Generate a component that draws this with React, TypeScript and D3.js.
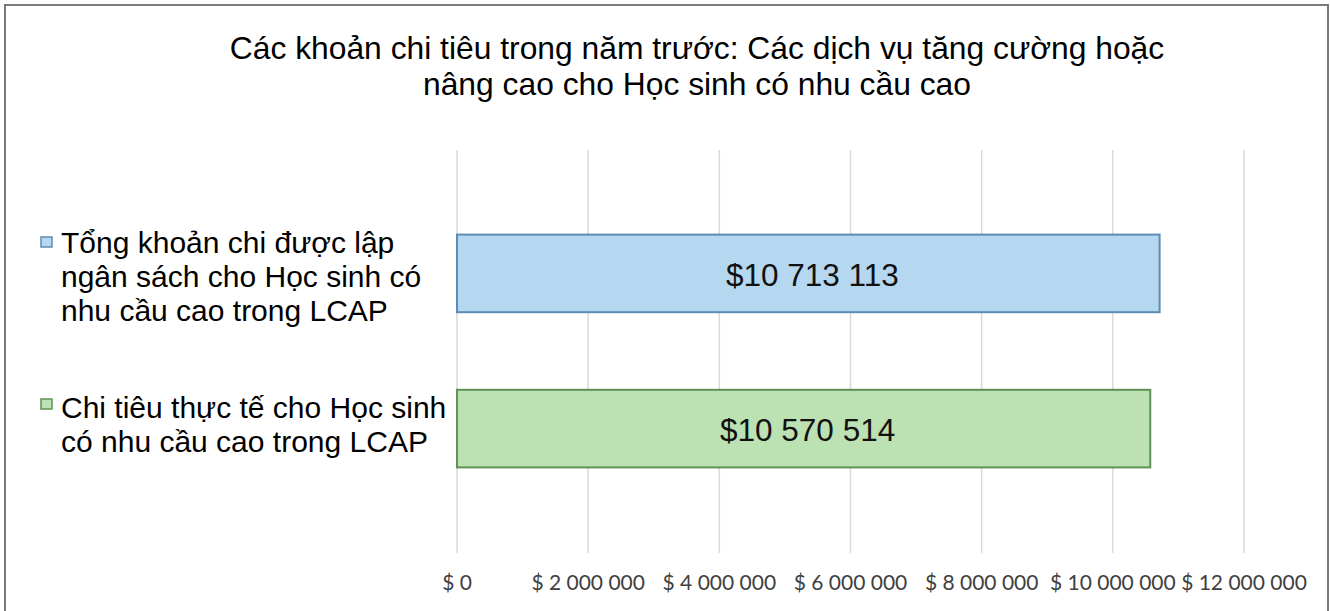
import React from "react";
import * as d3 from "d3";

const categories = [
  "Tổng khoản chi được lập ngân sách cho Học sinh có nhu cầu cao trong LCAP",
  "Chi tiêu thực tế cho Học sinh có nhu cầu cao trong LCAP",
];
const values = [10713113, 10570514];
const legendLines = [
  ["Tổng khoản chi được lập", "ngân sách cho Học sinh có", "nhu cầu cao trong LCAP"],
  ["Chi tiêu thực tế cho Học sinh", "có nhu cầu cao trong LCAP"],
];
const valueLabels = ["$10 713 113", "$10 570 514"];
const tickValues = [0, 2000000, 4000000, 6000000, 8000000, 10000000, 12000000];
const tickLabels = ["$ 0", "$ 2 000 000", "$ 4 000 000", "$ 6 000 000", "$ 8 000 000", "$ 10 000 000", "$ 12 000 000"];
const titleLines = [
  "Các khoản chi tiêu trong năm trước: Các dịch vụ tăng cường hoặc",
  "nâng cao cho Học sinh có nhu cầu cao",
];
const fills = ["#B5D7EF", "#BCE1B2"];
const strokes = ["#5D8DB5", "#5F9255"];

export default function App() {
  const W = 1330;
  const H = 611;
  const x = d3.scaleLinear().domain([0, 12000000]).range([457, 1244]);
  const y = d3.scaleBand<string>().domain(categories).range([157, 545]).paddingInner(0.5).paddingOuter(0.5);
  const gridTop = 150;
  const gridBottom = 553;
  const font = "'Liberation Sans', Arial, sans-serif";
  const legendY = [[253, 287, 321], [418, 452]];
  const markerY = [242, 404];

  return (
    <svg width={W} height={H} style={{ position: "absolute", left: 0, top: 0, background: "#fff" }}>
      <rect x={0} y={0} width={W} height={H} fill="#fff" />
      <rect x={5} y={5} width={1323} height={H + 20} fill="none" stroke="#7a7a7a" strokeWidth={2} />
      {titleLines.map((t, i) => (
        <text key={i} x={697} y={59 + i * 36} textAnchor="middle" fontFamily={font} fontSize={31.8} fill="#000">
          {t}
        </text>
      ))}
      {tickValues.map((v, i) => (
        <line key={i} x1={x(v)} x2={x(v)} y1={gridTop} y2={gridBottom} stroke="#d9d9d9" strokeWidth={1.5} />
      ))}
      {tickValues.map((v, i) => (
        <text key={"t" + i} x={x(v)} y={590} textAnchor="middle" fontFamily="Lato, 'Open Sans', sans-serif" fontSize={21} fill="#404040">
          {tickLabels[i]}
        </text>
      ))}
      {categories.map((c, i) => (
        <g key={c}>
          <rect
            x={x(0)}
            y={y(c)!}
            width={x(values[i]) - x(0)}
            height={y.bandwidth()}
            fill={fills[i]}
            stroke={strokes[i]}
            strokeWidth={2}
          />
          <text
            x={(x(0) + x(values[i])) / 2 + 4}
            y={y(c)! + y.bandwidth() / 2 + 12.5}
            textAnchor="middle"
            fontFamily={font}
            fontSize={31.5}
            fill="#111"
          >
            {valueLabels[i]}
          </text>
        </g>
      ))}
      {legendLines.map((lines, i) => (
        <g key={i}>
          <rect x={41} y={markerY[i] - 5} width={11} height={10} fill={fills[i]} stroke={strokes[i]} strokeWidth={1.5} />
          {lines.map((l, j) => (
            <text key={j} x={61} y={legendY[i][j]} fontFamily={font} fontSize={30} fill="#000">
              {l}
            </text>
          ))}
        </g>
      ))}
    </svg>
  );
}
